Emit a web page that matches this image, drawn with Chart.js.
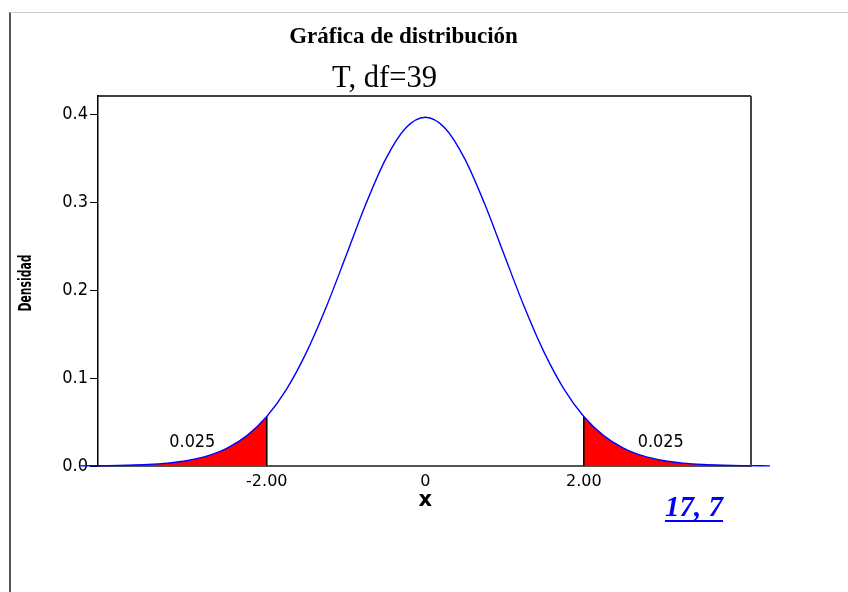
<!DOCTYPE html>
<html>
<head>
<meta charset="utf-8">
<script src="https://cdn.jsdelivr.net/npm/chart.js@4.4.1/dist/chart.umd.min.js"></script>
<style>
  html, body { margin: 0; padding: 0; background: #fff; }
  #page { position: relative; width: 848px; height: 592px; overflow: hidden; }
  #edge { position: absolute; left: 9px; top: 12px; right: 0; bottom: 0; border-left: 2px solid #555; border-top: 1px solid #ccc; }
  #chart { position: absolute; left: 0; top: 0; }
</style>
</head>
<body>
<div id="page">
  <div id="edge"></div>
  <canvas id="chart" width="848" height="592"></canvas>
</div>
<script>
// t density, df = 39
const xValues = [-4.35, -4.0, -3.75, -3.5, -3.25, -3.0, -2.75, -2.5, -2.25, -2.0, -1.75, -1.5, -1.25, -1.0, -0.75, -0.5, -0.25,
                 0, 0.25, 0.5, 0.75, 1.0, 1.25, 1.5, 1.75, 2.0, 2.25, 2.5, 2.75, 3.0, 3.25, 3.5, 3.75, 4.0, 4.35];
const density = [0.00015, 0.00041, 0.00084, 0.00168, 0.00329, 0.00623, 0.01145, 0.0203, 0.0345, 0.0562, 0.0874, 0.1291, 0.1807, 0.2389, 0.2977, 0.3488, 0.3839,
                 0.3964, 0.3839, 0.3488, 0.2977, 0.2389, 0.1807, 0.1291, 0.0874, 0.0562, 0.0345, 0.0203, 0.01145, 0.00623, 0.00329, 0.00168, 0.00084, 0.00041, 0.00015];
const critical = 2.0;
const tailArea = ['0.025', '0.025'];
const xTicks = [-2, 0, 2];
const xTickLabels = ['-2.00', '0', '2.00'];
const yTicks = [0, 0.1, 0.2, 0.3, 0.4];

const curve = xValues.map((x, i) => ({ x: x, y: density[i] }));
const leftTail = curve.filter(p => p.x <= -critical);
const rightTail = curve.filter(p => p.x >= critical);
const critHeight = density[xValues.indexOf(critical)];

const labelFont = '"DejaVu Sans Condensed", "DejaVu Sans", sans-serif';

const textPlugin = {
    id: 'texts',
    afterDraw(chart) {
        const ctx = chart.ctx;
        const xs = chart.scales.x, ys = chart.scales.y;
        const area = chart.chartArea;
        ctx.save();

        // frame top and right
        ctx.strokeStyle = '#000';
        ctx.lineWidth = 1.5;
        ctx.beginPath();
        ctx.moveTo(area.left, area.top);
        ctx.lineTo(area.right, area.top);
        ctx.stroke();
        ctx.strokeStyle = '#444';
        ctx.lineWidth = 2;
        ctx.beginPath();
        ctx.moveTo(area.right, area.top);
        ctx.lineTo(area.right, area.bottom);
        ctx.stroke();

        ctx.fillStyle = '#000';
        ctx.textAlign = 'center';
        ctx.textBaseline = 'alphabetic';
        ctx.font = 'bold 23px "Liberation Serif", serif';
        ctx.fillText('Gráfica de distribución', 403.5, 43, 231);
        ctx.font = '32px "Liberation Serif", serif';
        ctx.fillText('T, df=39', 384.5, 87, 105);

        // tail areas
        ctx.font = '18px ' + labelFont;
        ctx.textBaseline = 'middle';
        ctx.fillText(tailArea[0], xs.getPixelForValue(-2.94), ys.getPixelForValue(0.0273), 46);
        ctx.fillText(tailArea[1], xs.getPixelForValue(2.97), ys.getPixelForValue(0.0265), 46);

        // axis titles
        ctx.font = 'bold 21px "DejaVu Sans", sans-serif';
        ctx.fillText('x', xs.getPixelForValue(0), 501);
        ctx.save();
        ctx.translate(27, 283);
        ctx.rotate(-Math.PI / 2);
        ctx.font = 'bold 17px "DejaVu Sans", sans-serif';
        ctx.fillText('Densidad', 0, 0, 57);
        ctx.restore();

        // exercise reference
        ctx.fillStyle = '#0000ff';
        ctx.font = 'italic bold 29px "Liberation Serif", serif';
        ctx.textAlign = 'left';
        ctx.textBaseline = 'alphabetic';
        ctx.fillText('17, 7', 665, 516);
        ctx.fillRect(665, 520, 58, 2);
        ctx.restore();
    }
};

new Chart(document.getElementById('chart'), {
    type: 'line',
    data: {
        datasets: [
            {
                data: curve,
                borderColor: '#0000ff',
                borderWidth: 1.4,
                pointRadius: 0,
                cubicInterpolationMode: 'monotone',
                fill: false,
                clip: false
            },
            {
                data: [{ x: -critical, y: 0 }, { x: -critical, y: critHeight }],
                borderColor: '#000',
                borderWidth: 1.5,
                pointRadius: 0,
                fill: false
            },
            {
                data: [{ x: critical, y: 0 }, { x: critical, y: critHeight }],
                borderColor: '#000',
                borderWidth: 1.5,
                pointRadius: 0,
                fill: false
            },
            {
                data: leftTail,
                borderWidth: 0,
                borderColor: 'rgba(0,0,0,0)',
                backgroundColor: '#ff0000',
                pointRadius: 0,
                cubicInterpolationMode: 'monotone',
                fill: 'origin',
                clip: false
            },
            {
                data: rightTail,
                borderWidth: 0,
                borderColor: 'rgba(0,0,0,0)',
                backgroundColor: '#ff0000',
                pointRadius: 0,
                cubicInterpolationMode: 'monotone',
                fill: 'origin',
                clip: false
            }
        ]
    },
    options: {
        responsive: false,
        animation: false,
        layout: { padding: { left: 0, right: 97, top: 96, bottom: 86 } },
        plugins: { legend: { display: false }, tooltip: { enabled: false }, title: { display: false } },
        scales: {
            x: {
                type: 'linear',
                min: -4.13,
                max: 4.11,
                afterFit(scale) { scale.height = 40; },
                afterBuildTicks(scale) { scale.ticks = xTicks.map(v => ({ value: v })); },
                grid: { display: false },
                border: { display: true, color: '#555', width: 2 },
                ticks: {
                    padding: -2,
                    color: '#000',
                    font: { family: '"DejaVu Sans", sans-serif', size: 16 },
                    callback: (v) => xTickLabels[xTicks.indexOf(v)]
                }
            },
            y: {
                min: 0,
                max: 0.4205,
                afterFit(scale) { scale.width = 98; },
                afterBuildTicks(scale) { scale.ticks = yTicks.map(v => ({ value: v })); },
                grid: { display: true, drawOnChartArea: false, drawTicks: true, tickLength: 8, color: '#000', tickColor: '#000' },
                border: { display: true, color: '#000', width: 1.5 },
                ticks: {
                    padding: 2,
                    color: '#000',
                    font: { family: labelFont, size: 18 },
                    callback: (v) => v.toFixed(1)
                }
            }
        }
    },
    plugins: [textPlugin]
});
</script>
</body>
</html>
